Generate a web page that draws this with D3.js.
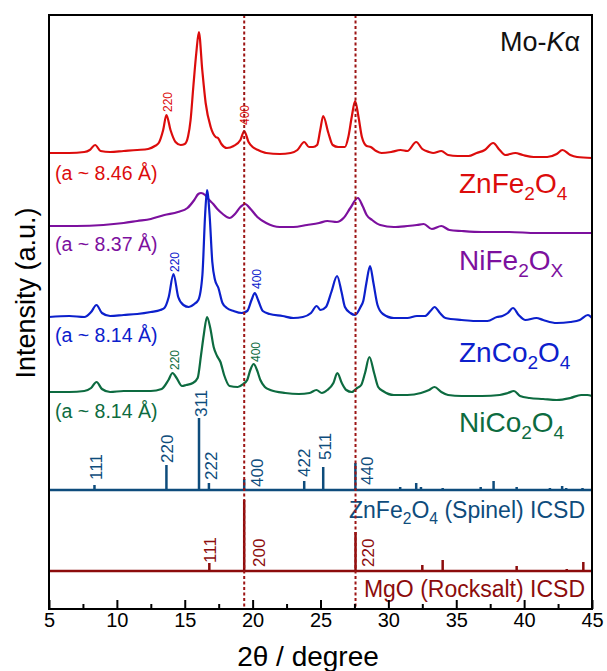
<!DOCTYPE html>
<html>
<head>
<meta charset="utf-8">
<script src="https://cdn.jsdelivr.net/npm/d3@7"></script>
<style>
  body { margin: 0; background: #fff; }
  svg { display: block; font-family: "Liberation Sans", Arial, sans-serif; }
</style>
</head>
<body>
<div id="chart"></div>
<script>
// measured patterns, [2theta, intensity above each trace's own baseline]
const znFe2O4 = [[5.0,5],[6.5,5],[7.6,6],[8.0,8],[8.4,13],[8.8,7],[9.5,6],[10.5,7],[11.5,8],[12.3,9],[12.8,12],[13.08,15],[13.41,28],[13.65,43],[13.95,28],[14.32,16],[14.7,13],[15.0,14],[15.25,22],[15.43,38],[15.63,71],[15.85,105],[16.04,126],[16.29,88],[16.54,55],[16.91,31],[17.28,21],[17.45,20],[17.7,14],[18.1,10],[18.6,12],[19.1,18],[19.38,27],[19.7,16],[20.0,11],[20.4,8],[21.0,5],[22.0,4],[22.8,5],[23.3,8],[23.8,16],[24.15,11],[24.45,11],[24.75,13],[24.98,28],[25.2,42],[25.58,25],[25.9,13],[26.3,11],[26.8,11],[27.05,21],[27.3,41],[27.55,57],[27.8,41],[28.05,21],[28.4,12],[28.7,11],[29.1,7],[29.5,5],[30.2,6],[30.9,8],[31.4,7],[32.05,16],[32.5,9],[33.0,6],[33.3,5],[33.9,7],[34.4,3],[35.1,2],[35.9,2],[36.5,5],[37.1,8],[37.72,15],[38.2,8],[38.6,3],[39.35,5],[39.9,3],[40.7,1],[41.7,1],[42.4,4],[42.82,8],[43.4,3],[43.9,1],[45.0,0]];
const niFe2Ox = [[5.0,7],[7.0,7],[9.0,8],[10.5,10],[11.5,12],[12.5,14],[13.5,18],[14.5,21],[15.2,25],[15.7,33],[16.0,39],[16.2,40],[16.5,38],[16.8,33],[17.1,29],[17.4,24],[17.8,19],[18.3,15],[18.7,19],[19.1,26],[19.45,29],[19.85,24],[20.35,16],[21.0,10],[22.0,6],[23.0,6],[24.0,8],[24.9,10],[25.5,12],[26.2,11],[26.7,15],[27.2,25],[27.75,35],[28.1,27],[28.4,18],[28.8,13],[29.4,8],[30.4,6],[31.4,7],[32.1,8],[32.6,9],[33.2,4],[33.9,7],[34.5,3],[35.4,2],[36.9,1],[38.9,1],[40.9,0],[42.9,0],[45.0,0]];
const znCo2O4 = [[5.0,6],[6.5,7],[7.6,6],[8.1,11],[8.5,18],[8.9,10],[9.5,7],[10.5,8],[11.5,9],[12.5,11],[13.2,13],[13.5,15],[13.82,26],[14.17,49],[14.52,26],[14.9,18],[15.3,16],[15.7,19],[16.0,23],[16.3,48],[16.5,108],[16.64,133],[16.83,108],[17.03,61],[17.23,43],[17.48,35],[17.78,20],[18.1,15],[18.6,12],[19.2,10],[19.6,12],[19.92,23],[20.16,30],[20.4,23],[20.75,12],[21.25,9],[22.2,7],[23.0,5],[23.7,6],[24.3,10],[24.72,17],[25.0,13],[25.4,16],[25.8,31],[26.22,47],[26.55,31],[26.8,16],[27.2,10],[27.55,8],[27.95,16],[28.15,22],[28.38,40],[28.65,57],[28.9,40],[29.2,18],[29.6,9],[30.4,5],[31.4,5],[32.1,7],[32.7,7],[33.1,12],[33.4,16],[33.8,10],[34.2,5],[35.4,3],[36.4,2],[37.3,2],[38.0,6],[38.4,7],[38.8,10],[39.18,15],[39.6,8],[40.1,3],[40.9,5],[41.4,3],[42.4,0],[43.4,1],[44.1,3],[44.7,8],[45.0,5]];
const niCo2O4 = [[5.0,8],[6.5,8],[7.6,9],[8.1,12],[8.5,18],[8.9,11],[9.5,8],[10.5,9],[11.5,9],[12.5,9],[13.3,11],[13.8,20],[14.1,27],[14.4,22],[14.8,14],[15.1,15],[15.6,17],[15.95,22],[16.2,45],[16.4,65],[16.64,83],[16.88,72],[17.13,53],[17.38,44],[17.63,38],[17.9,25],[18.3,14],[18.9,13],[19.3,16],[19.6,20],[19.83,30],[20.08,36],[20.32,30],[20.57,20],[20.9,13],[21.3,10],[22.4,7],[23.4,6],[24.2,7],[24.7,10],[25.1,7],[25.5,10],[25.95,17],[26.24,27],[26.57,17],[26.9,10],[27.3,8],[27.7,12],[28.0,15],[28.28,27],[28.6,43],[28.95,27],[29.25,13],[29.6,9],[30.4,5],[31.4,5],[32.4,7],[33.0,10],[33.4,13],[33.9,8],[34.4,5],[35.4,4],[36.9,4],[38.2,5],[38.8,7],[39.25,9],[39.7,4],[40.4,2],[41.4,1],[42.4,0],[43.4,2],[44.2,5],[44.65,5],[45.0,4]];

const sampleNames = ["ZnFe_2O_4", "NiFe_2O_X", "ZnCo_2O_4", "NiCo_2O_4"];
const sampleData = [znFe2O4, niFe2Ox, znCo2O4, niCo2O4];
const latticeA = ["8.46", "8.37", "8.14", "8.14"];
const sampleOffsets = [451, 376, 286, 209];
const sampleColors = ["#dc0c0c", "#7c109e", "#0c20cc", "#0d6b40"];
// hkl marks on the measured traces: [text, 2theta, height above baseline]
const sampleHkl = [
  [["220", 13.73, 46], ["400", 19.42, 33]],
  [],
  [["220", 14.25, 51], ["400", 20.3, 34]],
  [["220", 14.25, 30], ["400", 20.24, 38]],
];

// reference stick patterns
const spinelSticks = [[8.35,5],[13.65,25],[16.05,72],[16.78,7],[19.38,11],[23.8,9],[25.2,23],[27.57,27],[30.87,3],[32.05,7],[32.4,3],[34.0,2],[36.8,3],[37.75,9],[39.45,3],[41.9,2],[42.8,4],[43.1,2],[44.3,2]];
const spinelHkl = [["111",8.46,10],["220",13.69,27],["311",16.2,73],["222",16.91,10],["400",20.32,3],["422",23.78,13],["511",25.33,30],["440",28.4,5]];
const mgoSticks = [[16.81,8],[19.38,71],[27.58,39],[32.5,6],[34.0,11],[39.45,5],[43.14,2],[44.36,9]];
const mgoHkl = [["111",16.86,8],["200",20.45,4],["220",28.5,4]];
const refNames = ["ZnFe_2O_4 (Spinel) ICSD", "MgO (Rocksalt) ICSD"];
const refOffsets = [119, 38];
const refColors = ["#0e4c7c", "#8c0c0c"];

const refLines = [19.38, 27.58];
const xTicks = [5, 10, 15, 20, 25, 30, 35, 40, 45];
const xMinorTicks = [7.5, 12.5, 17.5, 22.5, 27.5, 32.5, 37.5, 42.5];

const width = 607, height = 671;
const margin = { top: 15, right: 15, bottom: 62, left: 49 };

const x = d3.scaleLinear().domain([5, 45]).range([margin.left, width - margin.right]);
const y = d3.scaleLinear().domain([0, 594]).range([height - margin.bottom, margin.top]);

const line = d3.line()
  .x((d) => x(d[0]))
  .y((d) => y(d[1]))
  .curve(d3.curveMonotoneX);

const svg = d3.select("#chart").append("svg")
  .attr("width", width)
  .attr("height", height);

// formula text, "_" makes the next character a subscript
function formula(sel, str, size) {
  const parts = str.split(/(_.)/).filter((s) => s.length);
  const drop = size * 0.25;
  let shifted = false;
  parts.forEach((p) => {
    if (p[0] === "_") {
      sel.append("tspan")
        .attr("font-size", size * 0.68)
        .attr("dy", shifted ? 0 : drop)
        .text(p[1]);
      shifted = true;
    } else {
      sel.append("tspan")
        .attr("dy", shifted ? -drop : 0)
        .text(p);
      shifted = false;
    }
  });
}

function hklLabels(g, labels, offset, color, size) {
  g.selectAll(null)
    .data(labels)
    .join("text")
    .attr("transform", (d) => `translate(${x(d[1])},${y(offset + d[2])}) rotate(-90)`)
    .attr("dy", "0.35em")
    .attr("fill", color)
    .attr("font-size", size)
    .text((d) => d[0]);
}

const plot = svg.append("g");

// measured traces
sampleData.forEach((data, i) => {
  const off = sampleOffsets[i];
  plot.append("path")
    .datum(data.map((d) => [d[0], d[1] + off]))
    .attr("fill", "none")
    .attr("stroke", sampleColors[i])
    .attr("stroke-width", 2.2)
    .attr("stroke-linejoin", "round")
    .attr("d", line);
  hklLabels(plot, sampleHkl[i], off, sampleColors[i], 12);
});

// reference sticks
[spinelSticks, mgoSticks].forEach((sticks, i) => {
  const off = refOffsets[i];
  plot.append("line")
    .attr("x1", x(5)).attr("x2", x(45))
    .attr("y1", y(off)).attr("y2", y(off))
    .attr("stroke", refColors[i])
    .attr("stroke-width", 2.5);
  plot.selectAll(null)
    .data(sticks)
    .join("line")
    .attr("x1", (d) => x(d[0])).attr("x2", (d) => x(d[0]))
    .attr("y1", y(off)).attr("y2", (d) => y(off + d[1]))
    .attr("stroke", refColors[i])
    .attr("stroke-width", 2.5);
});
hklLabels(plot, spinelHkl, refOffsets[0], refColors[0], 17);
hklLabels(plot, mgoHkl, refOffsets[1], refColors[1], 17);

// sample labels
const latticeBaselines = [180, 251, 342, 418];
latticeA.forEach((a, i) => {
  svg.append("text")
    .attr("x", 55).attr("y", latticeBaselines[i])
    .attr("font-size", 19.5)
    .attr("fill", sampleColors[i])
    .text(`(a ~ ${a} \u00c5)`);
});
const nameBaselines = [193, 270, 362, 432];
sampleNames.forEach((n, i) => {
  const t = svg.append("text")
    .attr("x", 459).attr("y", nameBaselines[i])
    .attr("font-size", 28)
    .attr("fill", sampleColors[i]);
  formula(t, n, 28);
});
const refBaselines = [518, 597];
refNames.forEach((n, i) => {
  const t = svg.append("text")
    .attr("x", 585).attr("y", refBaselines[i])
    .attr("text-anchor", "end")
    .attr("font-size", 23)
    .attr("fill", refColors[i]);
  formula(t, n, 23);
});

const mo = svg.append("text")
  .attr("x", 500).attr("y", 51)
  .attr("font-size", 27)
  .attr("fill", "#111");
mo.append("tspan").text("Mo-");
mo.append("tspan").attr("font-style", "italic").text("K");
mo.append("tspan").text("\u03b1");

// dashed guides
svg.selectAll(".guide")
  .data(refLines)
  .join("line")
  .attr("class", "guide")
  .attr("x1", (d) => x(d)).attr("x2", (d) => x(d))
  .attr("y1", margin.top).attr("y2", height - margin.bottom)
  .attr("stroke", "#9c1414")
  .attr("stroke-width", 2)
  .attr("stroke-dasharray", "3,2.5");

// axes
const xAxis = svg.append("g")
  .attr("transform", `translate(0,${height - margin.bottom})`)
  .call(d3.axisBottom(x).tickValues(xTicks).tickSize(-9).tickPadding(4).tickFormat(d3.format("d")))
  .call((g) => g.select(".domain").remove());
xAxis.selectAll(".tick line").attr("stroke", "#000").attr("stroke-width", 2);
xAxis.selectAll(".tick text")
  .attr("font-size", 20)
  .attr("font-family", '"Liberation Sans", Arial, sans-serif')
  .attr("fill", "#000");

svg.append("g")
  .attr("transform", `translate(0,${height - margin.bottom})`)
  .call(d3.axisBottom(x).tickValues(xMinorTicks).tickSize(-5).tickFormat(""))
  .call((g) => g.select(".domain").remove())
  .selectAll(".tick line").attr("stroke", "#000").attr("stroke-width", 2);

svg.append("rect")
  .attr("x", margin.left).attr("y", margin.top)
  .attr("width", width - margin.left - margin.right)
  .attr("height", height - margin.top - margin.bottom)
  .attr("fill", "none")
  .attr("stroke", "#000")
  .attr("stroke-width", 2);

svg.append("text")
  .attr("x", 308).attr("y", 666)
  .attr("text-anchor", "middle")
  .attr("font-size", 28)
  .text("2\u03b8 / degree");

svg.append("text")
  .attr("transform", "translate(35,293) rotate(-90)")
  .attr("text-anchor", "middle")
  .attr("font-size", 27)
  .text("Intensity (a.u.)");
</script>
</body>
</html>
